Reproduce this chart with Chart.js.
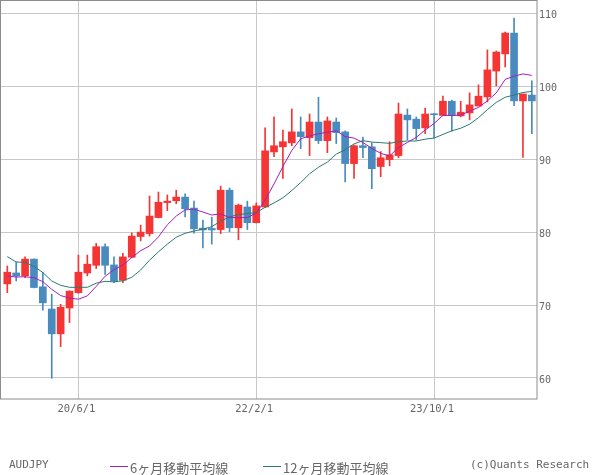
<!DOCTYPE html>
<html>
<head>
<meta charset="utf-8">
<script src="https://cdn.jsdelivr.net/npm/chart.js@4.4.1/dist/chart.umd.min.js"></script>
<style>
html, body { margin: 0; padding: 0; background: #fff; }
#wrap { position: relative; width: 600px; height: 475px; }
#foot span { position: absolute; top: 458px; line-height: 16px; color: #666; white-space: nowrap; }
#foot .mono { font: 11px "DejaVu Sans Mono", monospace; }
#foot .jp { font: 13px "Noto Sans CJK JP", sans-serif; }
#foot .key { top: 466px; width: 18px; height: 1px; line-height: 1px; }
</style>
</head>
<body>
<div id="wrap">
  <canvas id="myChart" width="600" height="475"></canvas>
  <div id="foot">
    <span class="mono" style="left:9px">AUDJPY</span>
    <span class="key" style="left:110px;background:#a020c0"></span>
    <span class="jp" style="left:130px">6ヶ月移動平均線</span>
    <span class="key" style="left:263px;background:#2a7a72"></span>
    <span class="jp" style="left:283px">12ヶ月移動平均線</span>
    <span class="mono" style="left:470px">(c)Quants Research</span>
  </div>
</div>
<script>
// monthly candles, Oct 2019 .. Sep 2024
var months = ['19/10/1','19/11/1','19/12/1','20/1/1','20/2/1','20/3/1','20/4/1','20/5/1','20/6/1','20/7/1','20/8/1','20/9/1',
              '20/10/1','20/11/1','20/12/1','21/1/1','21/2/1','21/3/1','21/4/1','21/5/1','21/6/1','21/7/1','21/8/1','21/9/1',
              '21/10/1','21/11/1','21/12/1','22/1/1','22/2/1','22/3/1','22/4/1','22/5/1','22/6/1','22/7/1','22/8/1','22/9/1',
              '22/10/1','22/11/1','22/12/1','23/1/1','23/2/1','23/3/1','23/4/1','23/5/1','23/6/1','23/7/1','23/8/1','23/9/1',
              '23/10/1','23/11/1','23/12/1','24/1/1','24/2/1','24/3/1','24/4/1','24/5/1','24/6/1','24/7/1','24/8/1','24/9/1'];

var open  = [72.9, 74.4, 74.0, 76.3, 72.5, 69.45, 66.05, 69.6, 71.7, 74.4, 75.45, 78.0,
             75.5, 73.4, 76.55, 79.4, 79.8, 82.0, 84.05, 84.3, 84.8, 83.3, 80.55, 80.5,
             80.35, 85.75, 80.6, 83.45, 81.3, 83.45, 91.0, 91.7, 92.25, 93.75, 92.95, 95.1,
             92.55, 95.1, 93.75, 89.4, 91.85, 91.7, 89.0, 89.95, 90.5, 96.05, 95.5, 94.3,
             96.2, 96.0, 97.95, 95.95, 96.35, 97.3, 98.55, 102.1, 104.45, 107.3, 98.0, 98.8];
var high  = [75.35, 75.9, 76.6, 76.35, 74.5, 71.5, 70.1, 71.95, 76.85, 76.85, 78.45, 78.4,
             76.6, 77.1, 79.9, 80.95, 84.95, 85.5, 85.1, 85.75, 85.25, 84.25, 81.65, 82.05,
             86.3, 86.05, 83.85, 84.25, 84.0, 94.3, 95.8, 94.0, 96.9, 95.8, 96.2, 98.5,
             95.8, 95.65, 93.9, 91.95, 93.05, 92.25, 91.05, 92.4, 97.7, 96.9, 95.8, 97.0,
             96.3, 98.65, 98.1, 97.95, 99.1, 100.2, 105.0, 104.85, 107.45, 109.35, 98.95, 100.75];
var low   = [71.7, 73.3, 73.75, 72.35, 69.3, 59.95, 64.3, 67.6, 71.6, 74.0, 75.0, 74.2,
             73.05, 73.05, 76.5, 78.8, 79.45, 81.95, 82.95, 83.9, 82.1, 79.85, 77.85, 78.35,
             79.8, 80.05, 78.95, 80.35, 81.25, 83.4, 90.35, 87.35, 91.85, 91.45, 90.5, 92.15,
             90.9, 92.15, 86.9, 87.35, 90.2, 85.95, 87.6, 89.1, 90.2, 92.65, 92.65, 93.5,
             92.95, 96.0, 93.85, 95.8, 95.4, 97.3, 97.85, 100.05, 102.65, 97.35, 90.25, 93.5];
var close = [74.5, 74.0, 76.3, 72.4, 70.3, 66.05, 69.7, 71.9, 74.5, 75.6, 78.0, 75.45,
             73.3, 76.6, 79.45, 80.0, 82.2, 84.1, 84.25, 84.8, 83.2, 80.45, 80.3, 80.3,
             85.75, 80.6, 83.7, 81.3, 83.6, 91.15, 91.85, 92.4, 93.75, 93.1, 95.1, 92.55,
             95.25, 93.65, 89.4, 91.85, 91.6, 88.7, 90.2, 90.6, 96.2, 95.4, 94.2, 96.2,
             96.1, 97.95, 96.0, 96.45, 97.45, 98.65, 102.25, 104.7, 107.3, 98.0, 98.95, 98.0];

// moving averages as drawn on the chart
var ma6  = [73.98, 73.84, 73.88, 73.74, 73.2, 72.15, 71.3, 70.95, 70.8, 71.25, 72.55, 73.95,
            74.85, 75.5, 76.5, 77.45, 78.1, 79.35, 81.0, 82.2, 83.05, 83.15, 82.75, 82.35,
            82.5, 82.0, 82.0, 82.0, 82.6, 84.4, 86.6, 89.0, 91.2, 92.8, 93.2, 93.5,
            93.7, 93.9, 93.1, 92.9, 92.3, 91.5, 90.8, 90.45, 91.6, 92.3, 93.0, 94.0,
            94.9, 96.0, 96.0, 96.05, 96.6, 97.1, 98.0, 99.1, 100.95, 101.4, 101.7, 101.5];
var ma12 = [76.65, 75.9, 75.85, 75.3, 74.45, 73.3, 72.7, 72.43, 72.43, 72.43, 73.0, 73.25,
            73.18, 73.33, 73.8, 74.8, 76.15, 77.3, 78.35, 79.3, 79.84, 80.15, 80.4, 80.75,
            81.5, 82.1, 82.4, 82.55, 82.68, 83.4, 84.0, 84.7, 85.7, 86.8, 88.0, 88.9,
            89.6, 90.7, 91.3, 92.1, 92.55, 92.35, 92.27, 92.18, 92.4, 92.5, 92.5, 92.75,
            92.9, 93.4, 93.9, 94.25, 94.8, 95.7, 96.8, 97.8, 98.5, 98.8, 99.15, 99.3];

var xTickIdx = [8, 28, 48];
var yTicks = [60, 70, 80, 90, 100, 110];

var upColor = '#f53434';
var downColor = '#4a8bbf';
var candleColors = open.map((o, i) => close[i] >= o ? upColor : downColor);

// plot frame
var framePlugin = {
    id: 'frame',
    afterDraw(chart) {
        var a = chart.chartArea;
        var ctx = chart.ctx;
        ctx.save();
        ctx.strokeStyle = '#8c8c8c';
        ctx.lineWidth = 1;
        ctx.strokeRect(0.5, 0.5, Math.round(a.right) - 0.5, Math.round(a.bottom) - 0.5);
        ctx.restore();
    }
};

var ctx = document.getElementById('myChart').getContext('2d');
var myChart = new Chart(ctx, {
    type: 'bar',
    data: {
        datasets: [
            {
                type: 'line',
                label: '6ヶ月移動平均線',
                data: ma6.map((v, i) => ({ x: i, y: v })),
                borderColor: '#a020c0',
                borderWidth: 1,
                pointRadius: 0,
                tension: 0,
                order: 0
            },
            {
                type: 'line',
                label: '12ヶ月移動平均線',
                data: ma12.map((v, i) => ({ x: i, y: v })),
                borderColor: '#2a7a72',
                borderWidth: 1,
                pointRadius: 0,
                tension: 0,
                order: 0
            },
            {
                label: 'body',
                data: open.map((o, i) => ({ x: i, y: [o, close[i]] })),
                backgroundColor: candleColors,
                barThickness: 7,
                minBarLength: 1,
                grouped: false,
                order: 1
            },
            {
                label: 'wick',
                data: low.map((l, i) => ({ x: i, y: [l, high[i]] })),
                backgroundColor: candleColors,
                barThickness: 1,
                grouped: false,
                order: 2
            }
        ]
    },
    options: {
        responsive: false,
        animation: false,
        events: [],
        layout: { padding: 0 },
        plugins: {
            legend: { display: false },
            tooltip: { enabled: false }
        },
        scales: {
            x: {
                type: 'linear',
                min: -0.82,
                max: 59.58,
                offset: false,
                afterBuildTicks: axis => { axis.ticks = xTickIdx.map(v => ({ value: v })); },
                afterFit: axis => {
                    axis.height = 76;
                    axis.paddingLeft = 0;
                    axis.paddingRight = 0;
                },
                grid: { offset: false, color: '#c8c8c8', drawTicks: false },
                border: { display: false },
                ticks: {
                    autoSkip: false,
                    maxRotation: 0,
                    padding: 4,
                    labelOffset: -2,
                    color: '#666',
                    font: { family: 'DejaVu Sans Mono', size: 10.5 },
                    callback: (value, index) => months[xTickIdx[index]]
                }
            },
            y: {
                type: 'linear',
                position: 'right',
                min: 57.11,
                max: 111.84,
                afterBuildTicks: axis => { axis.ticks = yTicks.map(v => ({ value: v })); },
                afterFit: axis => {
                    axis.width = 63;
                    axis.paddingTop = 0;
                    axis.paddingBottom = 0;
                },
                grid: { color: '#c8c8c8', drawTicks: false },
                border: { display: false },
                ticks: {
                    padding: 2,
                    labelOffset: 2,
                    color: '#666',
                    font: { family: 'DejaVu Sans Mono', size: 10 }
                }
            }
        }
    },
    plugins: [framePlugin]
});
</script>
</body>
</html>
